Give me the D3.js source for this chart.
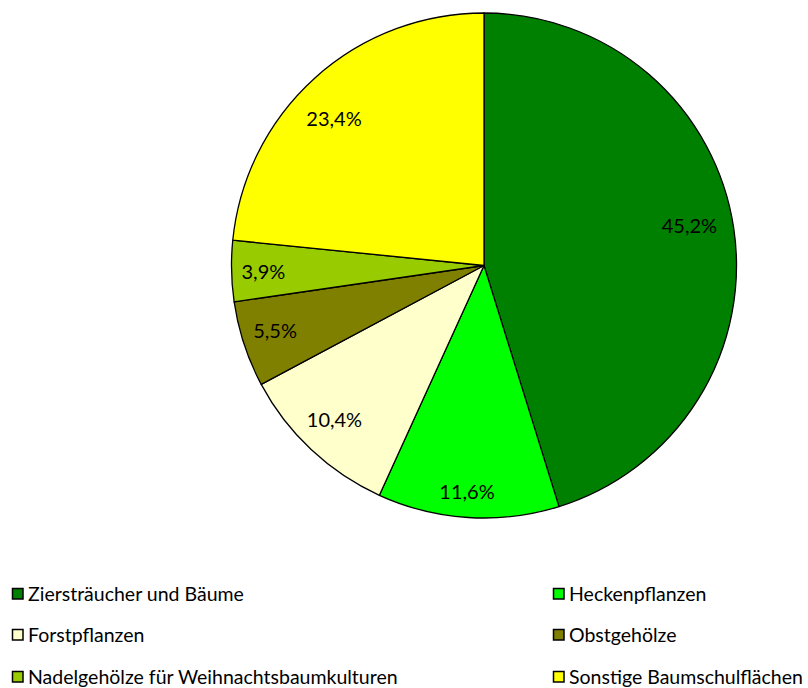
<!DOCTYPE html>
<html><head><meta charset="utf-8">
<script src="https://cdn.jsdelivr.net/npm/d3@7"></script>
<style>body{margin:0;background:#fff}svg{display:block}text{font-family:Lato,"Open Sans",sans-serif;fill:#000}</style>
</head><body><svg id="c" width="808" height="688"></svg>
<script>
const categories = ["Ziersträucher und Bäume","Heckenpflanzen","Forstpflanzen","Obstgehölze","Nadelgehölze für Weihnachtsbaumkulturen","Sonstige Baumschulflächen"];
const values = [45.2, 11.6, 10.4, 5.5, 3.9, 23.4];
const labels = ["45,2%","11,6%","10,4%","5,5%","3,9%","23,4%"];
const colors = ["#008000","#00FF00","#FFFFCC","#808000","#99CC00","#FFFF00"];
const labelRadiusFactor = [0.829, 0.899, 0.851, 0.867, 0.874, 0.831];
const labelAngleShiftDeg = [-2.4, 0.7, 0.9, 0.8, -0.3, -3.5];

const svg = d3.select("#c");
const cx = 484, cy = 265.5, r = 252.5;
const pie = d3.pie().sort(null).value(d => d)(values);
const arc = d3.arc().innerRadius(0).outerRadius(r);
const g = svg.append("g").attr("transform", `translate(${cx},${cy})`);
g.selectAll("path").data(pie).join("path")
  .attr("d", arc).attr("fill", (d,i) => colors[i])
  .attr("stroke", "#000").attr("stroke-width", 1.3).attr("stroke-linejoin","round");
g.selectAll("text.lbl").data(pie).join("text").attr("class","lbl")
  .attr("transform", (d,i) => {
    const a = (d.startAngle + d.endAngle)/2 + labelAngleShiftDeg[i]*Math.PI/180, rr = r*labelRadiusFactor[i];
    return `translate(${rr*Math.sin(a)},${-rr*Math.cos(a)})`;
  })
  .attr("text-anchor","middle").attr("dy","0.36em")
  .style("font-size","20px").text((d,i) => labels[i]);

const legend = svg.append("g");
const colX = [12, 553], rowY = [594, 635, 677];
categories.forEach((c,i) => {
  const x = colX[i%2], y = rowY[Math.floor(i/2)];
  legend.append("rect").attr("x", x+0.5).attr("y", y-5.5).attr("width", 10.5).attr("height", 10.5)
    .attr("fill", colors[i]).attr("stroke","#000").attr("stroke-width",1.5);
  legend.append("text").attr("x", x+16).attr("y", y).attr("dy","0.36em")
    .style("font-size","19.5px").text(c);
});
</script></body></html>
